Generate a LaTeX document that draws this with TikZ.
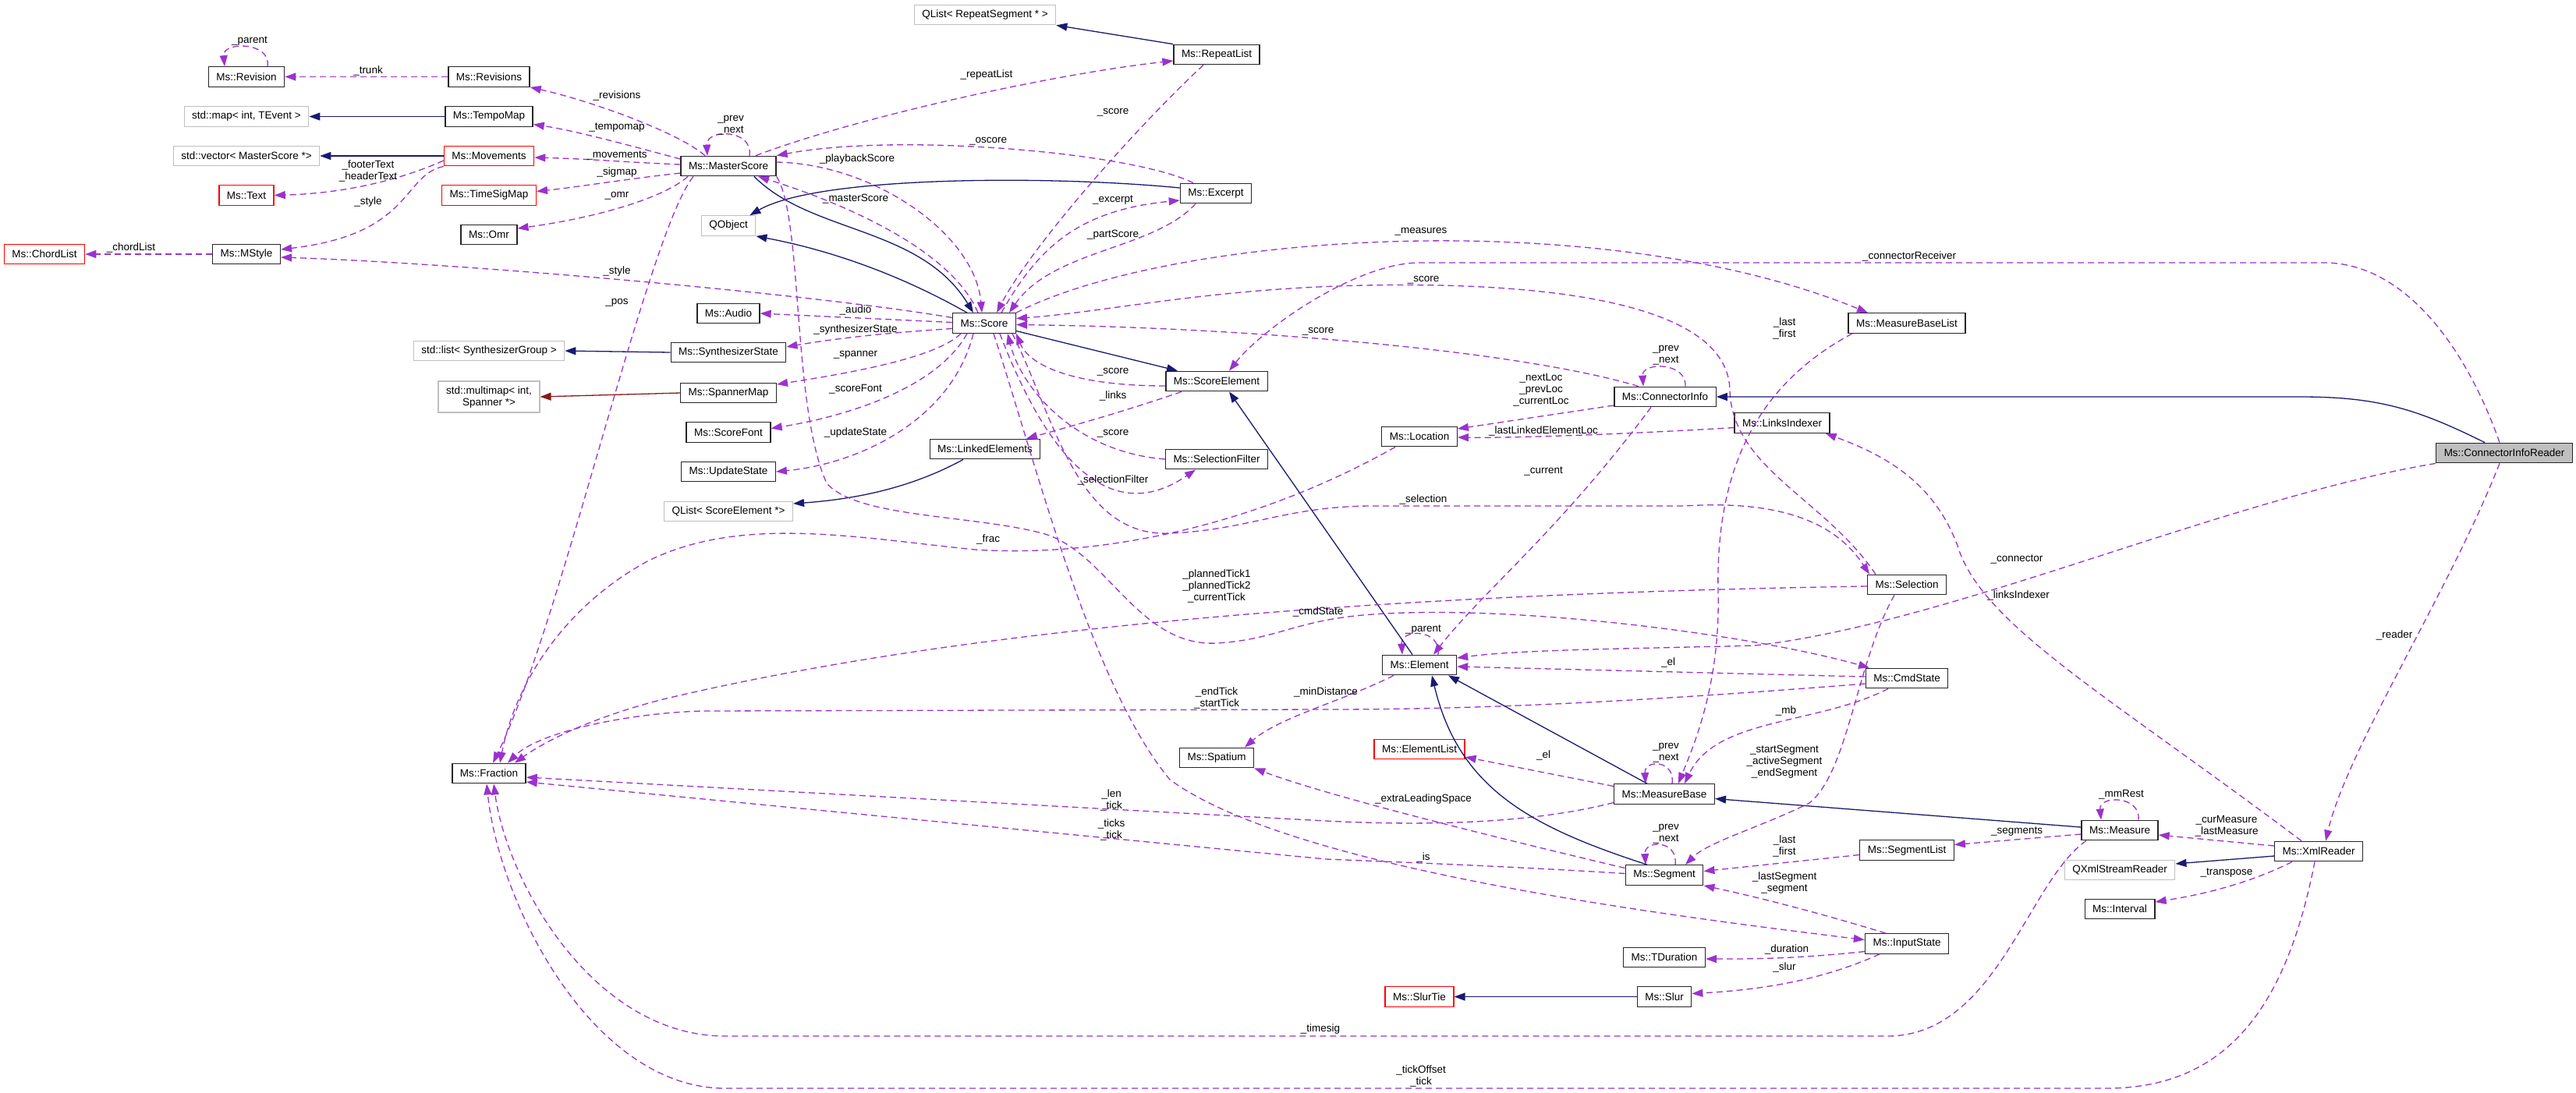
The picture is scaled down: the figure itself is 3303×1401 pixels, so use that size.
\documentclass[tikz,border=0pt]{standalone}
\usepackage{fontspec}
\setmainfont{Liberation Sans}
\usepackage{tikz}
\usetikzlibrary{arrows.meta}
\definecolor{orchid}{RGB}{154,50,205}
\definecolor{navyline}{RGB}{25,25,112}
\definecolor{brick}{RGB}{139,26,26}
\definecolor{boxgray}{RGB}{191,191,191}
\definecolor{boxred}{RGB}{255,0,0}
\newcommand\dgfont{\fontsize{13.5}{15}\selectfont}

\begin{document}
\begin{tikzpicture}[
  x=1pt, y=-1pt,
  cbox/.style={draw=black!85, line width=1.3pt, fill=white, minimum height=25.5pt, inner xsep=10pt, inner ysep=2pt, font=\dgfont},
  xbox/.style={cbox, draw=boxgray},
  redbox/.style={cbox, draw=boxred},
  lbl/.style={inner sep=0pt, align=center, font=\dgfont},
  assoc/.style={-{Triangle[length=14pt,width=10pt]}, draw=orchid, line width=1.3pt, dash pattern=on 8pt off 5pt},
  inh/.style={-{Triangle[length=14pt,width=10pt]}, draw=navyline, line width=1.3pt},
  tpl/.style={-{Triangle[length=14pt,width=10pt]}, draw=brick, line width=1.3pt}
]
  \useasboundingbox (0,0) rectangle (3303,1401);

  \node[cbox] (rev) at (316,98.5) {Ms::Revision};
  \node[cbox] (revs) at (627,98.5) {Ms::Revisions};
  \node[xbox] (smap) at (316,149.5) {std::map< int, TEvent >};
  \node[cbox] (tempo) at (627,149.5) {Ms::TempoMap};
  \node[xbox] (svec) at (316,200) {std::vector< MasterScore *>};
  \node[redbox] (mov) at (627,200) {Ms::Movements};
  \node[redbox] (txt) at (316,250.5) {Ms::Text};
  \node[redbox] (tsig) at (627,250.5) {Ms::TimeSigMap};
  \node[cbox] (omr) at (627,301) {Ms::Omr};
  \node[redbox] (chord) at (57,326) {Ms::ChordList};
  \node[cbox] (mstyle) at (316,326) {Ms::MStyle};
  \node[xbox] (slist) at (627,450) {std::list< SynthesizerGroup >};
  \node[xbox, align=center, minimum height=40pt] (mmap) at (627,509) {std::multimap< int,\\Spanner *>};
  \node[cbox] (frac) at (627,992) {Ms::Fraction};
  \node[xbox] (qrep) at (1263,19) {QList< RepeatSegment * >};
  \node[cbox] (rlist) at (1560,70) {Ms::RepeatList};
  \node[cbox] (mscore) at (934,213) {Ms::MasterScore};
  \node[xbox] (qobj) at (934,289.5) {QObject};
  \node[cbox] (excerpt) at (1559,248) {Ms::Excerpt};
  \node[cbox] (audio) at (934,402) {Ms::Audio};
  \node[cbox] (score) at (1262,414.5) {Ms::Score};
  \node[cbox] (synth) at (934,452) {Ms::SynthesizerState};
  \node[cbox] (spmap) at (934,504) {Ms::SpannerMap};
  \node[cbox] (sfont) at (934,554.5) {Ms::ScoreFont};
  \node[cbox] (ustate) at (934,605) {Ms::UpdateState};
  \node[xbox] (qse) at (934,656) {QList< ScoreElement *>};
  \node[cbox] (linked) at (1263,576) {Ms::LinkedElements};
  \node[cbox] (selem) at (1560,489) {Ms::ScoreElement};
  \node[cbox] (selfilt) at (1560,589) {Ms::SelectionFilter};
  \node[cbox] (spat) at (1560,972) {Ms::Spatium};
  \node[cbox] (mblist) at (2445,414.5) {Ms::MeasureBaseList};
  \node[cbox] (cinfo) at (2135,509) {Ms::ConnectorInfo};
  \node[cbox] (loc) at (1820,560) {Ms::Location};
  \node[cbox] (lidx) at (2285,542.5) {Ms::LinksIndexer};
  \node[cbox] (sel) at (2445,750) {Ms::Selection};
  \node[cbox] (elem) at (1820,853) {Ms::Element};
  \node[cbox] (cmd) at (2445,870) {Ms::CmdState};
  \node[cbox, fill=boxgray] (cir) at (3211,581) {Ms::ConnectorInfoReader};
  \node[redbox] (ellist) at (1820,961) {Ms::ElementList};
  \node[cbox] (mbase) at (2134,1018.5) {Ms::MeasureBase};
  \node[cbox] (seg) at (2134,1122.5) {Ms::Segment};
  \node[cbox] (seglist) at (2445,1090.5) {Ms::SegmentList};
  \node[cbox] (istate) at (2445,1210.5) {Ms::InputState};
  \node[cbox] (tdur) at (2134,1228) {Ms::TDuration};
  \node[redbox] (slurtie) at (1820,1278.5) {Ms::SlurTie};
  \node[cbox] (slur) at (2134,1278.5) {Ms::Slur};
  \node[cbox] (meas) at (2718,1065) {Ms::Measure};
  \node[cbox] (xml) at (2973,1092) {Ms::XmlReader};
  \node[xbox] (qxml) at (2718,1116) {QXmlStreamReader};
  \node[cbox] (intv) at (2718,1166) {Ms::Interval};

  \draw[assoc] ([xshift=27pt]rev.north) .. controls (348,53) and (285,53) .. ([xshift=-28pt]rev.north);
  \draw[assoc] (revs.west) -- (rev.east);
  \draw[assoc] ([xshift=-30pt]mscore.north) .. controls (870,170) and (760,130) .. (revs.south east);
  \draw[inh] (tempo.west) -- (smap.east);
  \draw[assoc] ([yshift=9pt]mscore.west) .. controls (820,190) and (740,168) .. ([yshift=-10pt]tempo.east);
  \draw[inh] (mov.west) -- (svec.east);
  \draw[assoc] ([yshift=2pt]mscore.west) .. controls (800,208) and (760,204) .. ([yshift=-2pt]mov.east);
  \draw[assoc] ([yshift=-6pt]mov.west) .. controls (510,232) and (440,248) .. (txt.east);
  \draw[assoc] ([yshift=-9pt]mscore.west) .. controls (800,230) and (740,240) .. ([yshift=5pt]tsig.east);
  \draw[assoc] ([xshift=-52pt]mscore.south) .. controls (850,255) and (760,280) .. ([yshift=8pt]omr.east);
  \draw[assoc] (mov.south west) .. controls (515,225) and (530,300) .. ([yshift=6pt]mstyle.east);
  \draw[assoc] (mstyle.west) -- (chord.east);
  \draw[assoc] ([yshift=7pt]score.west) .. controls (1050,378) and (600,338) .. ([yshift=-4pt]mstyle.east);
  \draw[inh] (synth.west) -- (slist.east);
  \draw[assoc] ([xshift=-45pt]mscore.south) .. controls (830,300) and (720,800) .. ([xshift=5pt]frac.north);

  \draw[inh] (rlist.north west) -- (qrep.south east);
  \draw[assoc] ([xshift=35pt]mscore.north) .. controls (1100,150) and (1350,95) .. ([yshift=-8pt]rlist.west);
  \draw[assoc] ([xshift=27pt]mscore.north) .. controls (966,165) and (905,165) .. ([xshift=-27pt]mscore.north);
  \draw[assoc] ([xshift=-29pt]excerpt.north) .. controls (1450,195) and (1150,170) .. (mscore.north east);
  \draw[assoc] ([yshift=5pt]mscore.east) .. controls (1120,210) and (1250,300) .. ([xshift=-3pt]score.north);
  \draw[inh] ([yshift=7pt]excerpt.west) .. controls (1350,225) and (1050,225) .. ([xshift=-8pt]qobj.north east);
  \draw[inh] ([xshift=33pt]mscore.south) .. controls (1040,300) and (1180,290) .. ([xshift=-14pt]score.north);
  \draw[inh] ([xshift=-22pt]score.north) .. controls (1150,350) and (1060,320) .. (qobj.south east);
  \draw[assoc] ([xshift=-8pt]score.north) .. controls (1220,320) and (1080,260) .. ([xshift=38pt]mscore.south);
  \draw[assoc] ([xshift=-17pt]rlist.south) .. controls (1450,170) and (1320,320) .. ([xshift=16pt]score.north);
  \draw[assoc] ([xshift=22pt]score.north) .. controls (1330,320) and (1380,270) .. ([yshift=-9pt]excerpt.west);
  \draw[assoc] ([xshift=-26pt]excerpt.south) .. controls (1480,320) and (1350,320) .. ([xshift=32pt]score.north);
  \draw[assoc] ([yshift=1pt]score.west) -- (audio.east);
  \draw[assoc] ([yshift=-7pt]score.west) .. controls (1120,428) and (1060,436) .. ([yshift=7pt]synth.east);
  \draw[assoc] ([xshift=-30pt]score.south) .. controls (1200,460) and (1080,480) .. ([yshift=11pt]spmap.east);
  \draw[assoc] ([xshift=-22pt]score.south) .. controls (1200,500) and (1080,535) .. ([yshift=5pt]sfont.east);
  \draw[assoc] ([xshift=-14pt]score.south) .. controls (1220,540) and (1100,595) .. (ustate.east);
  \draw[tpl] (spmap.west) -- (mmap.east);
  \draw[inh] ([yshift=-10pt]score.east) -- ([xshift=-50pt]selem.north);
  \draw[assoc] ([yshift=-6pt]selem.west) .. controls (1380,495) and (1320,470) .. (score.south east);
  \draw[assoc] (selfilt.west) .. controls (1380,580) and (1310,500) .. ([xshift=30pt]score.south);
  \draw[assoc] ([xshift=20pt]score.south) .. controls (1340,580) and (1420,680) .. ([xshift=-27pt]selfilt.south);
  \draw[assoc] ([xshift=-45pt]selem.south) .. controls (1450,525) and (1380,545) .. ([xshift=53pt]linked.north);
  \draw[inh] ([xshift=-28pt]linked.south) .. controls (1170,625) and (1100,640) .. ([yshift=10pt]qse.east);

  \draw[assoc] (score.north east) .. controls (1500,300) and (2050,260) .. ([xshift=-50pt]mblist.north);
  \draw[assoc] ([xshift=-6pt]cir.north) .. controls (3160,440) and (3080,337) .. (2980,337) -- (1820,337) .. controls (1740,337) and (1620,420) .. ([xshift=16pt]selem.north);
  \draw[assoc] ([xshift=-40pt]sel.north) .. controls (2340,640) and (2220,600) .. (2218,500) .. controls (2215,380) and (1950,362) .. (1750,366) .. controls (1550,370) and (1420,400) .. ([yshift=6pt]score.east);
  \draw[assoc] ([xshift=-34pt]cinfo.north) .. controls (1950,450) and (1600,420) .. ([yshift=-2pt]score.east);
  \draw[assoc] ([xshift=-70pt]mblist.south) .. controls (2240,500) and (2200,620) .. (2203,760) .. controls (2206,880) and (2170,960) .. ([xshift=18pt]mbase.north);
  \draw[assoc] ([xshift=36pt]score.south) .. controls (1350,530) and (1380,690) .. (1500,684) .. controls (1600,680) and (1650,649) .. (1760,649) -- (2160,649) .. controls (2300,640) and (2360,680) .. ([xshift=-48pt]sel.north);
  \draw[assoc] (cir.south west) .. controls (2850,640) and (2500,800) .. (2250,828) .. controls (2100,832) and (1950,833) .. ([yshift=9pt]elem.east);
  \draw[assoc] ([xshift=-18pt]cinfo.south) .. controls (2000,680) and (1900,760) .. ([xshift=18pt]elem.north);
  \draw[assoc] ([xshift=24pt]elem.north) .. controls (1848,806) and (1796,806) .. ([xshift=-22pt]elem.north);
  \draw[inh] ([xshift=-9pt]elem.north) -- ([xshift=16pt]selem.south);
  \draw[assoc] ([yshift=2pt]cmd.west) -- ([yshift=-2pt]elem.east);
  \draw[assoc] (mscore.south east) .. controls (1030,280) and (1015,520) .. (1060,620) .. controls (1100,665) and (1250,660) .. (1340,685) .. controls (1420,710) and (1460,830) .. (1560,825) .. controls (1640,820) and (1660,795) .. (1760,788) .. controls (1950,775) and (2250,815) .. ([xshift=-48pt]cmd.north);
  \draw[assoc] ([yshift=-2pt]sel.west) .. controls (1900,760) and (1300,790) .. (850,897) .. controls (760,920) and (700,950) .. ([xshift=33pt]frac.north);
  \draw[assoc] ([yshift=-7pt]cmd.west) .. controls (2100,900) and (1900,910) .. (1700,910) -- (900,912) .. controls (800,915) and (690,940) .. ([xshift=24pt]frac.north);
  \draw[assoc] ([xshift=-31pt]loc.south) .. controls (1600,680) and (1400,715) .. (1250,705) .. controls (1100,690) and (950,660) .. (830,720) .. controls (720,780) and (660,880) .. ([xshift=14pt]frac.north);
  \draw[assoc] ([yshift=-11pt]mbase.west) .. controls (1950,1060) and (1800,1058) .. (1700,1053) -- ([yshift=-5pt]frac.east);
  \draw[assoc] ([yshift=2pt]seg.west) .. controls (1950,1112) and (1800,1106) .. (1700,1102) -- ([yshift=-11pt]frac.east);
  \draw[assoc] ([xshift=-33pt]elem.south) .. controls (1720,900) and (1640,920) .. ([xshift=36pt]spat.north);
  \draw[assoc] ([yshift=9pt]seg.west) .. controls (1900,1070) and (1700,1020) .. (spat.south east);
  \draw[assoc] ([xshift=12pt]score.south) .. controls (1330,600) and (1400,880) .. (1500,1000) .. controls (1650,1110) and (2100,1170) .. ([yshift=5pt]istate.west);

  \draw[inh] ([xshift=-25pt]cir.north) .. controls (3100,525) and (3050,509) .. (2950,509) -- (cinfo.east);
  \draw[assoc] ([xshift=26pt]cinfo.north) .. controls (2163,464) and (2105,464) .. ([xshift=-28pt]cinfo.north);
  \draw[assoc] ([yshift=-11pt]cinfo.west) -- ([yshift=10pt]loc.east);
  \draw[assoc] ([yshift=-6pt]lidx.west) .. controls (2100,556) and (1950,562) .. ([yshift=-1pt]loc.east);
  \draw[assoc] ([xshift=-22pt]xml.north) .. controls (2700,890) and (2540,800) .. (2510,700) .. controls (2480,620) and (2420,585) .. ([xshift=-6pt]lidx.south east);
  \draw[assoc] ([xshift=-6pt]cir.south) .. controls (3140,760) and (3010,960) .. ([xshift=9pt]xml.north);
  \draw[assoc] ([yshift=7pt]xml.west) -- ([yshift=-6pt]meas.east);
  \draw[inh] ([yshift=-6pt]xml.west) -- ([yshift=8pt]qxml.east);
  \draw[assoc] ([xshift=-34pt]xml.south) .. controls (2880,1135) and (2820,1148) .. ([yshift=9pt]intv.east);
  \draw[inh] ([yshift=4pt]meas.west) -- ([yshift=-6pt]mbase.east);
  \draw[assoc] ([xshift=24pt]meas.north) .. controls (2745,1020) and (2691,1020) .. ([xshift=-24pt]meas.north);
  \draw[assoc] ([yshift=-5pt]meas.west) -- ([yshift=7pt]seglist.east);
  \draw[assoc] ([xshift=-43pt]meas.south) .. controls (2600,1130) and (2560,1329) .. (2420,1329) -- (930,1329) .. controls (760,1329) and (650,1130) .. ([xshift=6pt]frac.south);
  \draw[assoc] ([xshift=-5pt]xml.south) .. controls (2930,1300) and (2850,1396) .. (2700,1396) -- (930,1396) .. controls (760,1396) and (640,1160) .. ([xshift=-3pt]frac.south);

  \draw[assoc] ([xshift=-27pt]istate.north) .. controls (2330,1170) and (2250,1150) .. (seg.south east);
  \draw[assoc] ([yshift=-10pt]istate.west) .. controls (2300,1230) and (2250,1230) .. ([yshift=-2pt]tdur.east);
  \draw[assoc] ([xshift=-35pt]istate.south) .. controls (2330,1260) and (2250,1270) .. ([yshift=4pt]slur.east);
  \draw[inh] (slur.west) -- (slurtie.east);
  \draw[assoc] ([yshift=-6pt]seglist.west) -- ([yshift=5pt]seg.east);
  \draw[assoc] ([xshift=-16pt]sel.south) .. controls (2380,850) and (2370,990) .. (2320,1030) .. controls (2260,1060) and (2190,1080) .. ([xshift=27pt]seg.north);
  \draw[assoc] ([xshift=-24pt]cmd.south) .. controls (2330,930) and (2200,920) .. ([xshift=26pt]mbase.north);
  \draw[assoc] ([xshift=10pt]mbase.north) .. controls (2148,974) and (2108,974) .. ([xshift=-24pt]mbase.north);
  \draw[assoc] ([xshift=14pt]seg.north) .. controls (2152,1077) and (2108,1077) .. ([xshift=-24pt]seg.north);
  \draw[assoc] ([yshift=10pt]mbase.west) -- ([yshift=-10pt]ellist.east);
  \draw[inh] ([xshift=-22pt]mbase.north) -- ([xshift=37pt]elem.south);
  \draw[inh] ([xshift=-22pt]seg.north) .. controls (1960,1060) and (1870,1010) .. ([xshift=16pt]elem.south);

  \node[lbl] (l-parent1) at (320,53) {\_parent};
  \node[lbl] (l-trunk) at (472,91) {\_trunk};
  \node[lbl] (l-revisions) at (791,123) {\_revisions};
  \node[lbl] (l-tempomap) at (791,164) {\_tempomap};
  \node[lbl] (l-movements) at (791,199) {\_movements};
  \node[lbl] (l-footer) at (472,219.5) {\_footerText\\\_headerText};
  \node[lbl] (l-sigmap) at (791,221) {\_sigmap};
  \node[lbl] (l-omr) at (791,251) {\_omr};
  \node[lbl] (l-style1) at (472,259) {\_style};
  \node[lbl] (l-chord) at (168,318) {\_chordList};
  \node[lbl] (l-style2) at (791,348) {\_style};
  \node[lbl] (l-pos) at (791,388) {\_pos};
  \node[lbl] (l-repeat) at (1265,96) {\_repeatList};
  \node[lbl] (l-score1) at (1427,144) {\_score};
  \node[lbl] (l-msnext) at (937,160.5) {\_prev\\\_next};
  \node[lbl] (l-oscore) at (1267,181) {\_oscore};
  \node[lbl] (l-playback) at (1099,204) {\_playbackScore};
  \node[lbl] (l-master) at (1097,255) {\_masterScore};
  \node[lbl] (l-excerpt) at (1427,257) {\_excerpt};
  \node[lbl] (l-part) at (1427,301) {\_partScore};
  \node[lbl] (l-audio) at (1097,398) {\_audio};
  \node[lbl] (l-synth) at (1097,423) {\_synthesizerState};
  \node[lbl] (l-spanner) at (1097,455) {\_spanner};
  \node[lbl] (l-score2) at (1427,477) {\_score};
  \node[lbl] (l-scorefont) at (1097,499) {\_scoreFont};
  \node[lbl] (l-links) at (1427,508) {\_links};
  \node[lbl] (l-update) at (1097,555) {\_updateState};
  \node[lbl] (l-score3) at (1427,556) {\_score};
  \node[lbl] (l-selfilt) at (1427,616) {\_selectionFilter};
  \node[lbl] (l-frac) at (1267,692) {\_frac};
  \node[lbl] (l-planned) at (1560,752) {\_plannedTick1\\\_plannedTick2\\\_currentTick};
  \node[lbl] (l-cmdstate) at (1690,785) {\_cmdState};
  \node[lbl] (l-endtick) at (1560,895.5) {\_endTick\\\_startTick};
  \node[lbl] (l-mindist) at (1700,888) {\_minDistance};
  \node[lbl] (l-measures) at (1822,297) {\_measures};
  \node[lbl] (l-recv) at (2448,329) {\_connectorReceiver};
  \node[lbl] (l-score4) at (1825,359) {\_score};
  \node[lbl] (l-score5) at (1690,425) {\_score};
  \node[lbl] (l-lastfirst1) at (2288,421.5) {\_last\\\_first};
  \node[lbl] (l-cinext) at (2136,456) {\_prev\\\_next};
  \node[lbl] (l-locs) at (1976,500) {\_nextLoc\\\_prevLoc\\\_currentLoc};
  \node[lbl] (l-lastlinked) at (1979,553) {\_lastLinkedElementLoc};
  \node[lbl] (l-current) at (1979,604) {\_current};
  \node[lbl] (l-selection) at (1825,641) {\_selection};
  \node[lbl] (l-parent2) at (1825,808) {\_parent};
  \node[lbl] (l-el1) at (2139,850) {\_el};
  \node[lbl] (l-mb) at (2290,912) {\_mb};
  \node[lbl] (l-connector) at (2586,717) {\_connector};
  \node[lbl] (l-linksidx) at (2588,764) {\_linksIndexer};
  \node[lbl] (l-reader) at (3070,815) {\_reader};
  \node[lbl] (l-len) at (1425,1026) {\_len\\\_tick};
  \node[lbl] (l-ticks) at (1425,1064.5) {\_ticks\\\_tick};
  \node[lbl] (l-timesig) at (1693,1320) {\_timesig};
  \node[lbl] (l-mbnext) at (2136,966) {\_prev\\\_next};
  \node[lbl] (l-el2) at (1979,969) {\_el};
  \node[lbl] (l-startseg) at (2288,977) {\_startSegment\\\_activeSegment\\\_endSegment};
  \node[lbl] (l-extra) at (1825,1025) {\_extraLeadingSpace};
  \node[lbl] (l-segnext) at (2136,1070) {\_prev\\\_next};
  \node[lbl] (l-lastfirst2) at (2288,1085) {\_last\\\_first};
  \node[lbl] (l-is) at (1825,1100) {\_is};
  \node[lbl] (l-lastseg) at (2288,1132) {\_lastSegment\\\_segment};
  \node[lbl] (l-duration) at (2291,1218) {\_duration};
  \node[lbl] (l-slur) at (2288,1241) {\_slur};
  \node[lbl] (l-tickoffset) at (1822,1380.5) {\_tickOffset\\\_tick};
  \node[lbl] (l-mmrest) at (2720,1019) {\_mmRest};
  \node[lbl] (l-segments) at (2586,1067) {\_segments};
  \node[lbl] (l-curmeas) at (2855,1059.5) {\_curMeasure\\\_lastMeasure};
  \node[lbl] (l-transpose) at (2855,1120) {\_transpose};
\end{tikzpicture}
\end{document}
